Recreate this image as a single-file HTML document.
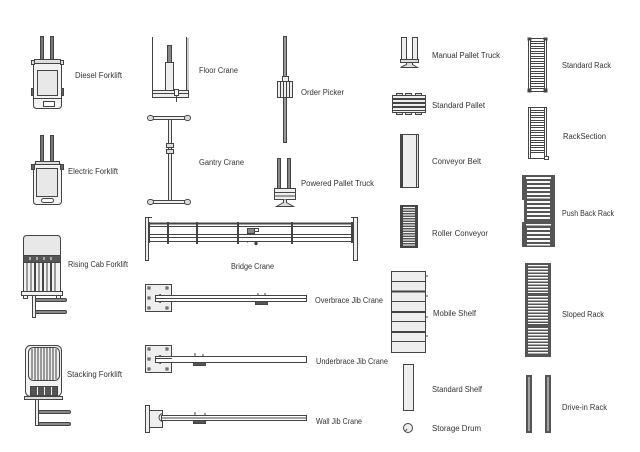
<!DOCTYPE html>
<html><head><meta charset="utf-8"><style>
html,body{margin:0;padding:0;background:#fff;}
svg{display:block;}
text{font-family:"Liberation Sans",sans-serif;font-size:8px;fill:#333;}
</style></head><body>
<svg width="640" height="452" viewBox="0 0 640 452" xmlns="http://www.w3.org/2000/svg">
<g stroke="#444" stroke-width="1" fill="#f2f2f2">

<!-- Diesel Forklift -->
<rect x="40.5" y="36.5" width="3" height="24" fill="#777"/>
<rect x="50.5" y="36.5" width="3" height="24" fill="#777"/>
<rect x="33.5" y="59.5" width="28" height="49" rx="3"/>
<rect x="34.5" y="59.5" width="26" height="4" fill="#ddd"/>
<rect x="31.5" y="60.5" width="3" height="4" fill="#ddd"/>
<rect x="60.5" y="60.5" width="3" height="4" fill="#ddd"/>
<rect x="37.5" y="70.5" width="20" height="25" fill="#e8e8e8"/>
<rect x="31.5" y="88.5" width="2" height="7" fill="#666"/>
<rect x="61.5" y="88.5" width="2" height="7" fill="#666"/>
<line x1="33.5" y1="98.5" x2="61.5" y2="98.5"/>
<rect x="43.5" y="101.5" width="11" height="5" fill="#fff"/>

<!-- Electric Forklift -->
<rect x="40.5" y="135.5" width="3" height="27" fill="#777"/>
<rect x="50.5" y="135.5" width="3" height="27" fill="#777"/>
<rect x="33.5" y="163.5" width="28" height="41" rx="3"/>
<rect x="35.5" y="161.5" width="24" height="3" fill="#ddd"/>
<rect x="31.5" y="164.5" width="3" height="5" fill="#666"/>
<rect x="60.5" y="164.5" width="3" height="5" fill="#666"/>
<rect x="36.5" y="168.5" width="21" height="28" fill="#e8e8e8"/>
<rect x="41.5" y="198.5" width="12" height="4" rx="2" fill="#fff"/>

<!-- Rising Cab Forklift -->
<path d="M23.5 255.5 V239 Q23.5 235.5 27 235.5 H57 Q60.5 235.5 60.5 239 V255.5 Z" fill="#e8e8e8"/>
<rect x="23.5" y="255.5" width="37" height="7" fill="#555"/>
<g stroke="#fff" stroke-width="1"><line x1="30" y1="257" x2="30" y2="260"/><line x1="37" y1="257" x2="37" y2="260"/><line x1="44" y1="257" x2="44" y2="260"/><line x1="51" y1="257" x2="51" y2="260"/></g>
<rect x="23.5" y="262.5" width="37" height="29"/>
<g stroke-width="1"><line x1="27" y1="263" x2="27" y2="291"/><line x1="31" y1="263" x2="31" y2="291"/><line x1="35" y1="263" x2="35" y2="291" stroke-width="2"/><line x1="39" y1="263" x2="39" y2="291"/><line x1="43" y1="263" x2="43" y2="291" stroke-width="2"/><line x1="47" y1="263" x2="47" y2="291"/><line x1="51" y1="263" x2="51" y2="291" stroke-width="2"/><line x1="55" y1="263" x2="55" y2="291"/></g>
<rect x="21.5" y="291.5" width="41" height="4"/>
<rect x="23.5" y="295.5" width="4" height="3"/>
<rect x="56.5" y="295.5" width="4" height="3"/>
<rect x="32.5" y="295.5" width="3" height="22" fill="#eee"/>
<rect x="35.5" y="298.5" width="31" height="3" rx="1.5" fill="#888"/>
<rect x="35.5" y="310.5" width="31" height="3" rx="1.5" fill="#888"/>

<!-- Stacking Forklift -->
<rect x="25.5" y="345.5" width="36" height="51" rx="5"/>
<rect x="28.5" y="347.5" width="31" height="33" rx="5" fill="#eee"/>
<g><line x1="32" y1="349" x2="32" y2="379"/><line x1="35" y1="348" x2="35" y2="380"/><line x1="38" y1="348" x2="38" y2="380"/><line x1="41" y1="348" x2="41" y2="380"/><line x1="44" y1="348" x2="44" y2="380"/><line x1="47" y1="348" x2="47" y2="380"/><line x1="50" y1="348" x2="50" y2="380"/><line x1="53" y1="348" x2="53" y2="380"/><line x1="56" y1="349" x2="56" y2="379"/></g>
<rect x="30.5" y="386.5" width="27" height="9" fill="#555"/>
<g stroke="#fff"><line x1="37.5" y1="387" x2="37.5" y2="395"/><line x1="44.5" y1="387" x2="44.5" y2="395"/><line x1="51.5" y1="387" x2="51.5" y2="395"/></g>
<rect x="24.5" y="396.5" width="38" height="3" fill="#ddd"/>
<rect x="35.5" y="399.5" width="3" height="26" fill="#eee"/>
<rect x="38.5" y="410.5" width="32" height="3" rx="1.5" fill="#888"/>
<rect x="38.5" y="422.5" width="32" height="3" rx="1.5" fill="#888"/>

<!-- Floor Crane -->
<line x1="152.5" y1="37" x2="152.5" y2="98"/>
<line x1="186.5" y1="37" x2="186.5" y2="98"/>
<line x1="188" y1="38" x2="188" y2="96" stroke="#999"/>
<rect x="167.5" y="45.5" width="4" height="17" fill="#888"/>
<rect x="165.5" y="62.5" width="8" height="35" fill="#eee"/>
<rect x="152.5" y="90.5" width="36" height="7" fill="#eee"/>
<line x1="152" y1="93.5" x2="188" y2="93.5"/>
<rect x="174.5" y="89.5" width="4" height="6" fill="#fff"/>
<line x1="176.5" y1="95" x2="176.5" y2="102"/>

<!-- Gantry Crane -->
<rect x="150.5" y="116.5" width="39" height="3" fill="#eee"/>
<rect x="147.5" y="115.5" width="6" height="5" rx="2.5" fill="#ddd"/>
<rect x="184.5" y="115.5" width="6" height="5" rx="2.5" fill="#ddd"/>
<rect x="168.5" y="119.5" width="3" height="81" fill="#eee"/>
<rect x="166.5" y="143.5" width="7" height="4" fill="#ddd"/>
<rect x="166.5" y="149.5" width="7" height="4" fill="#ddd"/>
<rect x="150.5" y="200.5" width="39" height="3" fill="#eee"/>
<rect x="147.5" y="199.5" width="6" height="5" rx="2.5" fill="#ddd"/>
<rect x="184.5" y="199.5" width="6" height="5" rx="2.5" fill="#ddd"/>

<!-- Order Picker -->
<rect x="283.5" y="36.5" width="3" height="106" fill="#999"/>
<rect x="282.5" y="76.5" width="6" height="5" fill="#eee"/>
<rect x="277.5" y="81.5" width="15" height="16" fill="#eee"/>
<g><line x1="280.5" y1="82" x2="280.5" y2="97"/><line x1="283.5" y1="82" x2="283.5" y2="97"/><line x1="286.5" y1="82" x2="286.5" y2="97"/><line x1="289.5" y1="82" x2="289.5" y2="97"/></g>

<!-- Powered Pallet Truck -->
<rect x="277.5" y="158.5" width="3" height="30" fill="#888"/>
<rect x="287.5" y="158.5" width="3" height="30" fill="#888"/>
<rect x="274.5" y="188.5" width="21" height="11" fill="#eee"/>
<line x1="275" y1="192.5" x2="295" y2="192.5"/>
<line x1="275" y1="196" x2="295" y2="196"/>
<path d="M283.5 199.5 V202.5 L276.5 206.5 H293.5 L286.5 202.5 V199.5" fill="#ddd"/>

<!-- Bridge Crane -->
<rect x="145.5" y="217.5" width="3" height="43" fill="#eee"/>
<rect x="353.5" y="217.5" width="4" height="43" fill="#eee"/>
<line x1="146" y1="217.5" x2="152" y2="217.5"/>
<line x1="351" y1="217.5" x2="357" y2="217.5"/>
<line x1="148" y1="223.5" x2="354" y2="223.5" stroke-width="2"/>
<line x1="148" y1="226.5" x2="354" y2="226.5"/>
<line x1="148" y1="234.5" x2="354" y2="234.5"/>
<line x1="148" y1="237.5" x2="354" y2="237.5"/>
<line x1="148" y1="241.5" x2="354" y2="241.5"/>
<line x1="149" y1="222" x2="149" y2="243" stroke-width="2"/>
<line x1="352" y1="222" x2="352" y2="243" stroke-width="2"/>
<line x1="168" y1="222" x2="168" y2="244" stroke-width="2"/>
<line x1="197" y1="222" x2="197" y2="244" stroke-width="2"/>
<line x1="238" y1="222" x2="238" y2="244" stroke-width="2"/>
<line x1="292" y1="222" x2="292" y2="244" stroke-width="2"/>
<rect x="247.5" y="228.5" width="7" height="5" fill="#888"/>
<rect x="254.5" y="228.5" width="4" height="3" fill="#fff"/>
<circle cx="256" cy="243.5" r="1.2" fill="#444"/>
<line x1="247" y1="242" x2="248" y2="242"/>

<!-- Overbrace Jib Crane -->
<rect x="145.5" y="284.5" width="26" height="27" fill="#eee"/>
<rect x="148" y="287" width="2" height="2" fill="#fff"/>
<rect x="166" y="287" width="2" height="2" fill="#fff"/>
<rect x="148" y="297" width="2" height="2" fill="#fff"/>
<rect x="148" y="307" width="2" height="2" fill="#fff"/>
<rect x="166" y="307" width="2" height="2" fill="#fff"/>
<path d="M161 294.5 A4 4 0 0 0 161 302.5" fill="none"/>
<rect x="155.5" y="295.5" width="151" height="6" fill="#fff"/>
<line x1="156" y1="298.5" x2="306" y2="298.5"/>
<rect x="255.5" y="301.5" width="12" height="3" fill="#555"/>
<line x1="258" y1="293" x2="258" y2="296"/>
<line x1="264" y1="294" x2="266" y2="294"/>

<!-- Underbrace Jib Crane -->
<rect x="145.5" y="345.5" width="26" height="27" fill="#eee"/>
<rect x="148" y="348" width="2" height="2" fill="#fff"/>
<rect x="166" y="348" width="2" height="2" fill="#fff"/>
<rect x="148" y="358" width="2" height="2" fill="#fff"/>
<rect x="148" y="368" width="2" height="2" fill="#fff"/>
<rect x="166" y="368" width="2" height="2" fill="#fff"/>
<path d="M161 355.5 A4 4 0 0 0 161 363.5" fill="none"/>
<rect x="155.5" y="356.5" width="151" height="6" fill="#fff"/>
<line x1="156" y1="358.5" x2="172" y2="358.5"/>
<rect x="193.5" y="362.5" width="12" height="3" fill="#555"/>
<line x1="195" y1="353" x2="195" y2="356"/>
<line x1="202" y1="355" x2="204" y2="355"/>

<!-- Wall Jib Crane -->
<rect x="145.5" y="405.5" width="4" height="27" fill="#eee"/>
<rect x="149.5" y="410.5" width="13" height="17" fill="#eee"/>
<path d="M163 413.5 A4 4 0 0 0 163 421.5" fill="none"/>
<rect x="161.5" y="415.5" width="145" height="5" fill="#fff"/>
<line x1="162" y1="418" x2="306" y2="418"/>
<rect x="193.5" y="420.5" width="12" height="3" fill="#555"/>
<line x1="195" y1="412" x2="195" y2="415"/>
<line x1="204" y1="414" x2="206" y2="414"/>

<!-- Manual Pallet Truck -->
<path d="M401.5 37.5 V60.5 H406.5 V37.5 Z" fill="#eee"/>
<path d="M412.5 37.5 V60.5 H417.5 V37.5 Z" fill="#eee"/>
<rect x="400.5" y="59.5" width="18" height="3" fill="#ddd"/>
<path d="M406.5 62.5 H412.5 V64.5 L417.5 67.5 H400.5 L406.5 64.5 Z" fill="#ddd"/>

<!-- Standard Pallet -->
<rect x="396.5" y="93.5" width="6" height="2" fill="#ddd"/>
<rect x="405.5" y="93.5" width="6" height="2" fill="#ddd"/>
<rect x="415.5" y="93.5" width="6" height="2" fill="#ddd"/>
<rect x="392.5" y="95.5" width="33" height="3" fill="#eee"/>
<rect x="392.5" y="99.5" width="33" height="3" fill="#eee"/>
<rect x="392.5" y="103.5" width="33" height="3" fill="#eee"/>
<rect x="392.5" y="107.5" width="33" height="3" fill="#eee"/>
<rect x="392.5" y="110.5" width="33" height="2" fill="#eee"/>
<rect x="396.5" y="112.5" width="6" height="2" fill="#ddd"/>
<rect x="405.5" y="112.5" width="6" height="2" fill="#ddd"/>
<rect x="415.5" y="112.5" width="6" height="2" fill="#ddd"/>

<!-- Conveyor Belt -->
<rect x="400.5" y="134.5" width="16" height="53" fill="#eee"/>
<rect x="400" y="134" width="3" height="54" fill="#444" stroke="none"/>
<rect x="416.5" y="134.5" width="2" height="53" fill="#ddd"/>
<line x1="418" y1="136" x2="419" y2="136"/>
<line x1="418" y1="186" x2="419" y2="186"/>

<!-- Roller Conveyor -->
<rect x="400" y="205" width="18" height="43" fill="#444" stroke="none"/>
<g stroke="#f4f4f4" stroke-width="1.2">
<line x1="403" y1="207.5" x2="415" y2="207.5"/><line x1="403" y1="210" x2="415" y2="210"/><line x1="403" y1="212.5" x2="415" y2="212.5"/><line x1="403" y1="215" x2="415" y2="215"/><line x1="403" y1="217.5" x2="415" y2="217.5"/><line x1="403" y1="220" x2="415" y2="220"/><line x1="403" y1="222.5" x2="415" y2="222.5"/><line x1="403" y1="225" x2="415" y2="225"/><line x1="403" y1="227.5" x2="415" y2="227.5"/><line x1="403" y1="230" x2="415" y2="230"/><line x1="403" y1="232.5" x2="415" y2="232.5"/><line x1="403" y1="235" x2="415" y2="235"/><line x1="403" y1="237.5" x2="415" y2="237.5"/><line x1="403" y1="240" x2="415" y2="240"/><line x1="403" y1="242.5" x2="415" y2="242.5"/><line x1="403" y1="245" x2="415" y2="245"/>
</g>

<!-- Mobile Shelf -->
<rect x="391.5" y="271.5" width="34" height="81" fill="#eee"/>
<line x1="391" y1="281.5" x2="426" y2="281.5"/>
<line x1="391" y1="291.5" x2="426" y2="291.5" stroke-width="2"/>
<line x1="391" y1="301.5" x2="426" y2="301.5"/>
<line x1="391" y1="312" x2="426" y2="312" stroke-width="2"/>
<line x1="391" y1="321.5" x2="426" y2="321.5"/>
<line x1="391" y1="332" x2="426" y2="332" stroke-width="2"/>
<line x1="391" y1="341.5" x2="426" y2="341.5"/>
<line x1="426" y1="276" x2="428" y2="276"/>
<line x1="426" y1="296" x2="428" y2="296"/>
<line x1="426" y1="317" x2="428" y2="317"/>
<line x1="426" y1="336" x2="428" y2="336"/>

<!-- Standard Shelf -->
<rect x="403.5" y="364.5" width="10" height="46" fill="#eee"/>

<!-- Storage Drum -->
<circle cx="408" cy="428" r="4.5" fill="#eee"/>
<path d="M405.5 431 L407 429" fill="none"/>

<!-- Standard Rack -->
<g>
<rect x="528.5" y="38.5" width="18" height="53" fill="#fff"/>
<line x1="530.5" y1="38" x2="530.5" y2="92"/>
<line x1="544.5" y1="38" x2="544.5" y2="92"/>
<rect x="530.5" y="41.5" width="14" height="2" fill="#fff"/>
<rect x="530.5" y="46.5" width="14" height="2" fill="#fff"/>
<rect x="530.5" y="51.5" width="14" height="2" fill="#fff"/>
<rect x="530.5" y="56.5" width="14" height="2" fill="#fff"/>
<rect x="530.5" y="61.5" width="14" height="2" fill="#fff"/>
<rect x="530.5" y="66.5" width="14" height="2" fill="#fff"/>
<rect x="530.5" y="71.5" width="14" height="2" fill="#fff"/>
<rect x="530.5" y="76.5" width="14" height="2" fill="#fff"/>
<rect x="530.5" y="81.5" width="14" height="2" fill="#fff"/>
<rect x="530.5" y="86.5" width="14" height="2" fill="#fff"/>
<rect x="528" y="38" width="3" height="2" fill="#444"/>
<rect x="544" y="38" width="3" height="2" fill="#444"/>
<rect x="528" y="89" width="3" height="3" fill="#444"/>
<rect x="544" y="89" width="3" height="3" fill="#444"/>
</g>

<!-- RackSection -->
<g>
<rect x="528.5" y="107.5" width="18" height="51" fill="#fff"/>
<line x1="530.5" y1="107" x2="530.5" y2="159"/>
<line x1="544.5" y1="107" x2="544.5" y2="159"/>
<rect x="530.5" y="110.5" width="14" height="2" fill="#fff"/>
<rect x="530.5" y="115.5" width="14" height="2" fill="#fff"/>
<rect x="530.5" y="120.5" width="14" height="2" fill="#fff"/>
<rect x="530.5" y="125.5" width="14" height="2" fill="#fff"/>
<rect x="530.5" y="130.5" width="14" height="2" fill="#fff"/>
<rect x="530.5" y="135.5" width="14" height="2" fill="#fff"/>
<rect x="530.5" y="140.5" width="14" height="2" fill="#fff"/>
<rect x="530.5" y="145.5" width="14" height="2" fill="#fff"/>
<rect x="530.5" y="150.5" width="14" height="2" fill="#fff"/>
<rect x="544.5" y="156.5" width="4" height="3" fill="#fff"/>
</g>

<!-- Push Back Rack -->
<g stroke="none">
<rect x="522" y="175" width="33" height="25" fill="#555"/>
<rect x="524" y="199" width="31" height="24" fill="#555"/>
<rect x="522" y="222" width="33" height="25" fill="#555"/>
<g fill="#fafafa">
<rect x="526" y="177" width="25" height="2"/><rect x="527" y="181" width="23" height="2"/><rect x="527" y="185" width="23" height="2"/><rect x="527" y="189" width="23" height="2"/><rect x="527" y="193" width="23" height="2"/><rect x="527" y="197" width="23" height="1.5"/>
<rect x="527" y="201" width="23" height="2"/><rect x="527" y="205" width="23" height="2"/><rect x="527" y="209" width="23" height="2"/><rect x="527" y="213" width="23" height="2"/><rect x="527" y="217" width="23" height="2"/>
<rect x="526" y="224" width="25" height="1.5"/><rect x="527" y="228" width="23" height="2"/><rect x="527" y="232" width="23" height="2"/><rect x="527" y="236" width="23" height="2"/><rect x="527" y="240" width="23" height="2"/><rect x="527" y="244" width="23" height="1.5"/>
</g>
</g>

<!-- Sloped Rack -->
<g stroke="none">
<rect x="525" y="263" width="26" height="94" fill="#555"/>
<g fill="#fafafa">
<rect x="528" y="265" width="20" height="1.2"/><rect x="528" y="268" width="20" height="1.5"/><rect x="528" y="271" width="20" height="1.5"/><rect x="528" y="274" width="20" height="1.5"/><rect x="528" y="277" width="20" height="1.5"/><rect x="528" y="280" width="20" height="1.5"/><rect x="528" y="283" width="20" height="1.5"/><rect x="528" y="286" width="20" height="1.5"/><rect x="528" y="289" width="20" height="1.5"/><rect x="528" y="292" width="20" height="1"/>
<rect x="528" y="296" width="20" height="1.5"/><rect x="528" y="299" width="20" height="1.5"/><rect x="528" y="302" width="20" height="1.5"/><rect x="528" y="305" width="20" height="1.5"/><rect x="528" y="308" width="20" height="1.5"/><rect x="528" y="311" width="20" height="1.5"/><rect x="528" y="314" width="20" height="1.5"/><rect x="528" y="317" width="20" height="1.5"/><rect x="528" y="320" width="20" height="1.5"/><rect x="528" y="323" width="20" height="1"/>
<rect x="528" y="328" width="20" height="1.5"/><rect x="528" y="331" width="20" height="1.5"/><rect x="528" y="334" width="20" height="1.5"/><rect x="528" y="337" width="20" height="1.5"/><rect x="528" y="340" width="20" height="1.5"/><rect x="528" y="343" width="20" height="1.5"/><rect x="528" y="346" width="20" height="1.5"/><rect x="528" y="349" width="20" height="1.5"/><rect x="528" y="352" width="20" height="1.5"/>
</g>
</g>

<!-- Drive-in Rack -->
<g stroke="none">
<rect x="526" y="375" width="6" height="58" fill="#555"/>
<rect x="545" y="375" width="6" height="58" fill="#555"/>
<rect x="528.5" y="377" width="1" height="54" fill="#eee"/>
<rect x="547.5" y="377" width="1" height="54" fill="#eee"/>
</g>

</g>

<!-- Labels -->
<text x="75" y="78" textLength="47" lengthAdjust="spacingAndGlyphs">Diesel Forklift</text>
<text x="68" y="174" textLength="50" lengthAdjust="spacingAndGlyphs">Electric Forklift</text>
<text x="68" y="267" textLength="60" lengthAdjust="spacingAndGlyphs">Rising Cab Forklift</text>
<text x="67" y="377" textLength="55" lengthAdjust="spacingAndGlyphs">Stacking Forklift</text>
<text x="199" y="73" textLength="39" lengthAdjust="spacingAndGlyphs">Floor Crane</text>
<text x="199" y="165" textLength="45" lengthAdjust="spacingAndGlyphs">Gantry Crane</text>
<text x="301" y="95" textLength="43" lengthAdjust="spacingAndGlyphs">Order Picker</text>
<text x="301" y="186" textLength="73" lengthAdjust="spacingAndGlyphs">Powered Pallet Truck</text>
<text x="231" y="269" textLength="43" lengthAdjust="spacingAndGlyphs">Bridge Crane</text>
<text x="315" y="303" textLength="68" lengthAdjust="spacingAndGlyphs">Overbrace Jib Crane</text>
<text x="316" y="364" textLength="72" lengthAdjust="spacingAndGlyphs">Underbrace Jib Crane</text>
<text x="316" y="424" textLength="46" lengthAdjust="spacingAndGlyphs">Wall Jib Crane</text>
<text x="432" y="58" textLength="68" lengthAdjust="spacingAndGlyphs">Manual Pallet Truck</text>
<text x="432" y="108" textLength="53" lengthAdjust="spacingAndGlyphs">Standard Pallet</text>
<text x="432" y="164" textLength="49" lengthAdjust="spacingAndGlyphs">Conveyor Belt</text>
<text x="432" y="236" textLength="56" lengthAdjust="spacingAndGlyphs">Roller Conveyor</text>
<text x="433" y="316" textLength="43" lengthAdjust="spacingAndGlyphs">Mobile Shelf</text>
<text x="432" y="392" textLength="50" lengthAdjust="spacingAndGlyphs">Standard Shelf</text>
<text x="432" y="431" textLength="49" lengthAdjust="spacingAndGlyphs">Storage Drum</text>
<text x="562" y="68" textLength="49" lengthAdjust="spacingAndGlyphs">Standard Rack</text>
<text x="563" y="139" textLength="43" lengthAdjust="spacingAndGlyphs">RackSection</text>
<text x="562" y="216" textLength="52" lengthAdjust="spacingAndGlyphs">Push Back Rack</text>
<text x="562" y="317" textLength="42" lengthAdjust="spacingAndGlyphs">Sloped Rack</text>
<text x="562" y="410" textLength="45" lengthAdjust="spacingAndGlyphs">Drive-in Rack</text>
</svg>
</body></html>
